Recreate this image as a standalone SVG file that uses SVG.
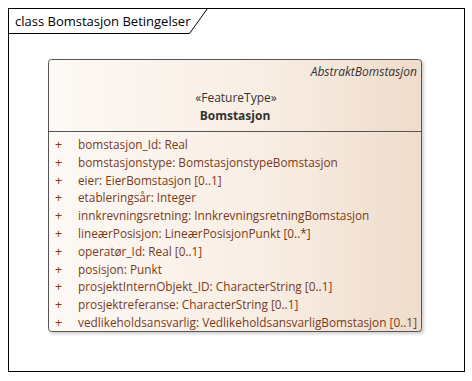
<svg xmlns="http://www.w3.org/2000/svg" width="472" height="381" viewBox="0 0 472 381">
  <defs>
    <linearGradient id="classFill" x1="0" y1="0" x2="1" y2="0">
      <stop offset="0" stop-color="#fdf9f5"/>
      <stop offset="0.6" stop-color="#f8ede3"/>
      <stop offset="1" stop-color="#efdccb"/>
    </linearGradient>
    <filter id="shadow" x="-5%" y="-5%" width="115%" height="115%">
      <feGaussianBlur stdDeviation="1.5"/>
    </filter>
  </defs>
  <style>
    text { font-family: "Open Sans", "Noto Sans", sans-serif; }
    .frame { fill: none; stroke: #000; stroke-width: 1; }
    .title { font-size: 13px; fill: #000; }
    .hdr { font-size: 12px; fill: #333; }
    .attr { font-size: 11.8px; fill: #7a3a1a; }
    .vis { font-size: 12.5px; fill: #7a3a1a; }
  </style>

  <rect width="472" height="381" fill="#fff"/>

  <!-- diagram frame with name tab -->
  <g id="frame">
    <rect class="frame" x="8.5" y="8.5" width="456" height="363"/>
    <path class="frame" d="M8.5 33.5 H189.5 L207.5 8.5"/>
    <text class="title" x="15" y="26">class Bomstasjon Betingelser</text>
  </g>

  <!-- class Bomstasjon -->
  <g id="Bomstasjon">
    <rect x="50" y="61" width="374" height="273" rx="3" fill="#b0b0b0" opacity="0.6" filter="url(#shadow)"/>
    <rect x="48.5" y="59.5" width="373" height="272" rx="3" fill="url(#classFill)" stroke="#555" stroke-width="1"/>
    <line x1="48.5" y1="131.5" x2="421.5" y2="131.5" stroke="#555" stroke-width="1"/>
    <text class="hdr" x="417" y="76" text-anchor="end" font-style="italic">AbstraktBomstasjon</text>
    <text class="hdr" x="236" y="102" text-anchor="middle">«FeatureType»</text>
    <text class="hdr" x="235" y="120" text-anchor="middle" font-weight="bold">Bomstasjon</text>

    <g class="vis">
      <text x="55" y="149">+</text>
      <text x="55" y="167">+</text>
      <text x="55" y="185">+</text>
      <text x="55" y="202">+</text>
      <text x="55" y="220">+</text>
      <text x="55" y="238">+</text>
      <text x="55" y="256">+</text>
      <text x="55" y="274">+</text>
      <text x="55" y="291">+</text>
      <text x="55" y="309">+</text>
      <text x="55" y="327">+</text>
    </g>
    <g class="attr">
      <text x="78" y="149">bomstasjon_Id: Real</text>
      <text x="78" y="167">bomstasjonstype: BomstasjonstypeBomstasjon</text>
      <text x="78" y="185">eier: EierBomstasjon [0..1]</text>
      <text x="78" y="202">etableringsår: Integer</text>
      <text x="78" y="220">innkrevningsretning: InnkrevningsretningBomstasjon</text>
      <text x="78" y="238">lineærPosisjon: LineærPosisjonPunkt [0..*]</text>
      <text x="78" y="256">operatør_Id: Real [0..1]</text>
      <text x="78" y="274">posisjon: Punkt</text>
      <text x="78" y="291">prosjektInternObjekt_ID: CharacterString [0..1]</text>
      <text x="78" y="309">prosjektreferanse: CharacterString [0..1]</text>
      <text x="78" y="327" textLength="339" lengthAdjust="spacingAndGlyphs">vedlikeholdsansvarlig: VedlikeholdsansvarligBomstasjon [0..1]</text>
    </g>
  </g>
</svg>
